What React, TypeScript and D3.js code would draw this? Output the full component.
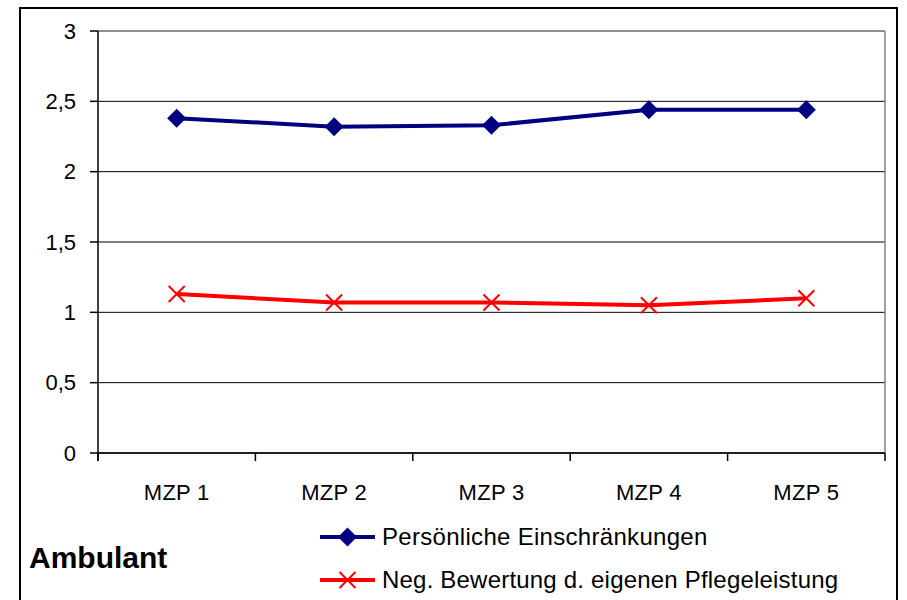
import React from "react";
import * as d3 from "d3";

const categories = ["MZP 1", "MZP 2", "MZP 3", "MZP 4", "MZP 5"];
const seriesNames = ["Persönliche Einschränkungen", "Neg. Bewertung d. eigenen Pflegeleistung"];
const persoenlich = [2.38, 2.32, 2.33, 2.44, 2.44];
const negBewertung = [1.13, 1.07, 1.07, 1.05, 1.1];
const yTicks = [0, 0.5, 1, 1.5, 2, 2.5, 3];
const yTickLabels = ["0", "0,5", "1", "1,5", "2", "2,5", "3"];
const chartTitle = "Ambulant";

const W = 907, H = 600;
const plot = { left: 98, right: 885, top: 31, bottom: 453 };
const font = "Arial, 'Liberation Sans', sans-serif";

export default function App() {
  const x = d3.scaleBand<string>().domain(categories).range([plot.left, plot.right]);
  const y = d3.scaleLinear().domain([0, 3]).range([plot.bottom, plot.top]);
  const cx = (c: string) => (x(c) as number) + x.bandwidth() / 2;
  const line = d3.line<[number, number]>().x(d => d[0]).y(d => d[1]);
  const bluePts: [number, number][] = categories.map((c, i) => [cx(c), y(persoenlich[i])]);
  const redPts: [number, number][] = categories.map((c, i) => [cx(c), y(negBewertung[i])]);
  const blue = "#000080";
  const red = "#FF0000";
  const diamond = (px: number, py: number, r = 9.5) => `M${px},${py - r}L${px + r},${py}L${px},${py + r}L${px - r},${py}Z`;
  const cross = (px: number, py: number, r = 8) => `M${px - r},${py - r}L${px + r},${py + r}M${px + r},${py - r}L${px - r},${py + r}`;
  const boundaries = [...categories.map(c => x(c) as number), plot.right];

  return (
    <svg width={W} height={H} style={{ position: "absolute", left: 0, top: 0, display: "block" }} fontFamily={font}>
      <rect x={0} y={0} width={W} height={H} fill="#fff" />
      <rect x={20} y={8} width={877} height={600} fill="#fff" stroke="#000" strokeWidth={2} />
      {yTicks.map(t => (
        <line key={t} x1={plot.left} x2={plot.right} y1={y(t)} y2={y(t)} stroke={t === 3 ? "#808080" : "#000"} strokeWidth={1} />
      ))}
      <line x1={plot.right} x2={plot.right} y1={plot.top} y2={plot.bottom} stroke="#808080" strokeWidth={1.5} />
      <line x1={plot.left} x2={plot.right} y1={plot.top} y2={plot.top} stroke="#808080" strokeWidth={1.5} />
      <line x1={plot.left} x2={plot.left} y1={plot.top} y2={plot.bottom + 8} stroke="#000" strokeWidth={1.5} />
      {yTicks.map((t, i) => (
        <g key={t}>
          <line x1={plot.left - 8} x2={plot.left} y1={y(t)} y2={y(t)} stroke="#000" strokeWidth={1.5} />
          <text x={76} y={y(t)} dy="0.35em" textAnchor="end" fontSize={22}>{yTickLabels[i]}</text>
        </g>
      ))}
      <line x1={plot.left} x2={plot.right} y1={plot.bottom} y2={plot.bottom} stroke="#000" strokeWidth={1.5} />
      {boundaries.map((b, i) => (
        <line key={i} x1={b} x2={b} y1={plot.bottom} y2={plot.bottom + 8} stroke="#000" strokeWidth={1.5} />
      ))}
      {categories.map(c => (
        <text key={c} x={cx(c)} y={500} textAnchor="middle" fontSize={22} letterSpacing={0.3}>{c}</text>
      ))}
      <path d={line(bluePts) || ""} fill="none" stroke={blue} strokeWidth={4} />
      {bluePts.map((p, i) => <path key={i} d={diamond(p[0], p[1])} fill={blue} />)}
      <path d={line(redPts) || ""} fill="none" stroke={red} strokeWidth={4} />
      {redPts.map((p, i) => <path key={i} d={cross(p[0], p[1])} stroke={red} strokeWidth={2} fill="none" />)}
      <line x1={320} x2={375} y1={537} y2={537} stroke={blue} strokeWidth={4} />
      <path d={diamond(347.5, 537)} fill={blue} />
      <text x={382} y={537} dy="0.35em" fontSize={24} letterSpacing={0.3}>{seriesNames[0]}</text>
      <line x1={320} x2={375} y1={580} y2={580} stroke={red} strokeWidth={4} />
      <path d={cross(347.5, 580)} stroke={red} strokeWidth={2} fill="none" />
      <text x={382} y={580} dy="0.35em" fontSize={24} letterSpacing={0.2}>{seriesNames[1]}</text>
      <text x={29} y={568} fontSize={30} fontWeight="bold">{chartTitle}</text>
    </svg>
  );
}
